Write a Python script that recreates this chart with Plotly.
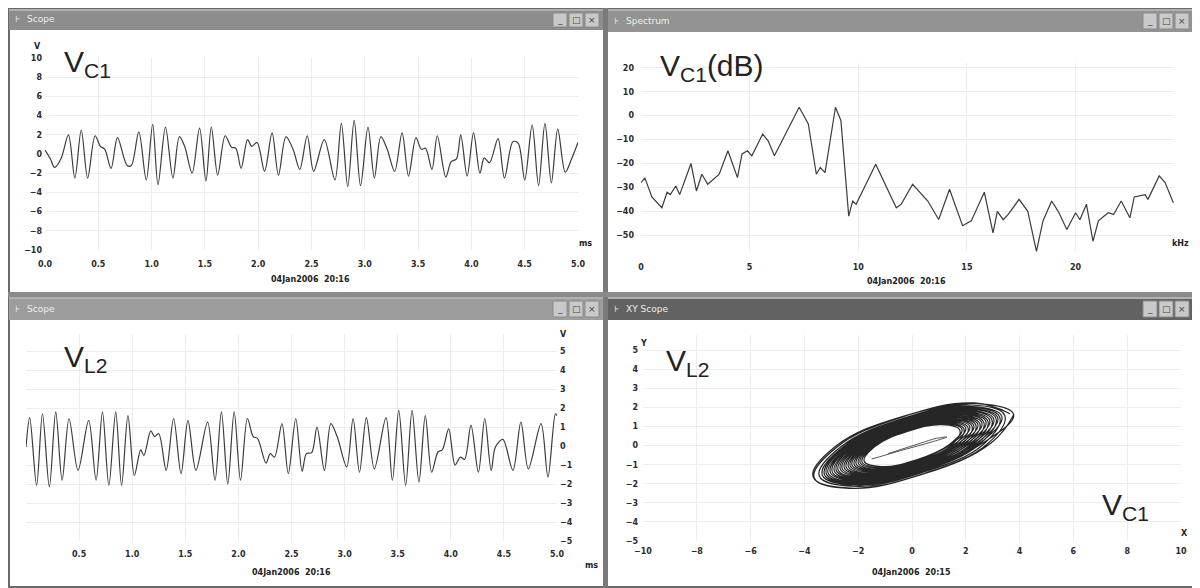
import plotly.graph_objects as go

OFF = 8  # the page body adds an 8px margin; positions below are page pixels
W, H = 1200 - OFF, 588 - OFF

# ---------------- data ----------------
# Top-left scope: V_C1 (ms, V)
vc1_t = [0.00, 0.05, 0.09, 0.15, 0.22, 0.28, 0.34, 0.40, 0.47, 0.52, 0.56, 0.62, 0.68, 0.77, 0.81,
         0.88, 0.95, 1.01, 1.06, 1.13, 1.20, 1.26, 1.31, 1.38, 1.45, 1.51, 1.56, 1.62, 1.69, 1.75,
         1.79, 1.84, 1.90, 1.94, 1.99, 2.06, 2.13, 2.19, 2.26, 2.33, 2.39, 2.46, 2.52, 2.62, 2.72,
         2.78, 2.84, 2.90, 2.96, 3.03, 3.09, 3.15, 3.21, 3.28, 3.35, 3.41, 3.48, 3.53, 3.57, 3.63,
         3.68, 3.76, 3.81, 3.86, 3.90, 3.96, 4.02, 4.08, 4.12, 4.17, 4.25, 4.31, 4.39, 4.44, 4.50,
         4.57, 4.63, 4.69, 4.75, 4.81, 4.88, 4.94, 5.00]
vc1_v = [0.4, -0.5, -1.4, -0.5, 2.0, -2.5, 2.5, -2.5, 1.9, 0.8, 0.5, -1.5, 1.7, -1.2, -1.2,
         2.3, -2.7, 3.1, -3.2, 2.8, -2.5, 1.8, 0.8, -2.0, 2.7, -2.8, 2.8, -2.2, 1.9, 0.7,
         0.6, -1.5, 1.5, 0.8, 1.2, -1.8, 2.2, -2.2, 1.8, 0.4, -1.6, 1.9, -1.8, 1.5, -2.7,
         3.2, -3.4, 3.5, -3.3, 2.8, -2.5, 1.8, 0.5, -1.8, 2.2, -2.3, 1.7, 0.5, 0.6, -1.6,
         1.9, -2.4, -0.8, -0.5, 2.0, -2.3, 2.2, -2.0, -0.4, -0.9, 1.6, -2.5, 1.3, 1.1, -2.7,
         3.0, -3.3, 3.2, -3.0, 2.6, -1.9, -0.5, 1.2]

# Top-right spectrum: V_C1 (kHz, dB)
sp_f = [0, 0.18, 0.5, 0.96, 1.2, 1.35, 1.6, 1.78, 2.1, 2.3, 2.55, 2.8, 3.07, 3.6, 4.0, 4.44,
        4.65, 4.9, 5.1, 5.6, 5.85, 6.14, 7.28, 7.7, 8.07, 8.25, 8.47, 8.95, 9.2, 9.56, 9.74,
        9.9, 10.8, 11.75, 11.98, 12.5, 13.2, 13.7, 14.2, 14.8, 15.2, 15.8, 16.2, 16.4, 16.67,
        16.9, 17.4, 17.8, 18.2, 18.5, 18.9, 19.2, 19.6, 20.0, 20.2, 20.5, 20.8, 21.05, 21.5,
        21.75, 22.1, 22.5, 22.7, 23.2, 23.33, 23.85, 24.12, 24.5]
sp_db = [-28, -26, -34, -38.5, -32, -33, -29.4, -33, -25, -20, -31.5, -24.5, -28.7, -24.5, -14.7, -25.9,
         -16, -14.7, -16.8, -7.7, -10.5, -16.8, 3.5, -3.5, -24.5, -21.7, -23.8, 3.5, -2, -42, -35.7,
         -37, -20.3, -38.5, -37, -28.7, -35.7, -43.4, -30.8, -46, -44, -32, -49, -40, -43.5,
         -41.3, -35, -40, -56.7, -44, -35.7, -40, -47.6, -40.6, -43.5, -37, -52.5, -44, -40.6,
         -41.3, -35.7, -42.7, -34, -33, -35, -25.2, -28, -36.4]

# Bottom-left scope: V_L2 (ms, V)
vl2_t = [0.00, 0.035, 0.10, 0.155, 0.22, 0.28, 0.34, 0.405, 0.49, 0.59, 0.66, 0.72, 0.78, 0.845,
         0.90, 0.96, 1.02, 1.08, 1.11, 1.175, 1.21, 1.25, 1.32, 1.39, 1.46, 1.525, 1.60, 1.71,
         1.78, 1.84, 1.90, 1.96, 2.02, 2.085, 2.14, 2.18, 2.26, 2.30, 2.34, 2.41, 2.47, 2.54,
         2.60, 2.64, 2.69, 2.74, 2.81, 2.87, 2.93, 3.02, 3.08, 3.14, 3.205, 3.28, 3.39, 3.45,
         3.51, 3.575, 3.635, 3.70, 3.76, 3.82, 3.88, 3.92, 3.98, 4.04, 4.09, 4.13, 4.19, 4.26,
         4.32, 4.38, 4.42, 4.49, 4.585, 4.66, 4.73, 4.85, 4.915, 4.985, 5.00]
vl2_v = [-0.05, 1.5, -2.07, 1.7, -2.15, 1.8, -1.8, 1.45, -1.28, 1.35, -1.8, 1.8, -2.07, 1.8,
         -2.07, 1.6, -1.55, -0.2, -0.5, 0.8, 0.5, 0.65, -1.28, 1.45, -1.45, 1.35, -1.28, 1.26,
         -1.8, 1.8, -2.0, 1.8, -1.8, 1.45, 0.5, 0.4, -0.9, -0.4, -0.58, 1.18, -1.45, 1.45,
         -1.33, -0.4, -0.35, 1.0, -1.28, 1.18, 0.5, -1.1, 1.45, -1.38, 1.5, -1.2, 1.5, -1.8,
         1.88, -2.07, 1.88, -1.9, 1.6, -1.38, -0.3, -0.2, 0.9, -1.0, -0.58, -0.7, 1.1, -1.38,
         1.45, -1.28, -0.05, 0.35, -1.28, 1.26, -1.2, 1.18, -1.63, 1.7, 1.6]

# Bottom-right XY scope: V_C1 (x) vs V_L2 (y), loops
xy_x = [3.64, 2.32, -0.35, -2.82, -3.64, -2.32, 0.35, 2.82,
        3.45, 2.20, -0.33, -2.68, -3.45, -2.20, 0.33, 2.68,
        3.26, 2.09, -0.32, -2.53, -3.26, -2.09, 0.32, 2.53,
        3.12, 1.99, -0.30, -2.42, -3.12, -1.99, 0.30, 2.42,
        2.97, 1.90, -0.29, -2.30, -2.97, -1.90, 0.29, 2.30,
        2.82, 1.80, -0.27, -2.19, -2.82, -1.80, 0.27, 2.19,
        2.67, 1.71, -0.26, -2.07, -2.67, -1.71, 0.26, 2.07,
        2.52, 1.61, -0.24, -1.96, -2.52, -1.61, 0.24, 1.96,
        2.37, 1.52, -0.23, -1.84, -2.37, -1.52, 0.23, 1.84,
        2.23, 1.42, -0.22, -1.73, -2.23, -1.42, 0.22, 1.73,
        2.08, 1.33, -0.20, -1.61, -2.08, -1.33, 0.20, 1.61,
        1.93, 1.23, -0.19, -1.50, -1.93, -1.23, 0.19, 1.50,
        1.78, 1.14, -0.17, -1.38, -1.78, -1.14, 0.17, 1.38,
        1.86, 1.19, -0.18, -1.44, -1.86, -1.19, 0.18, 1.44,
        2.00, 1.28, -0.19, -1.56, -2.00, -1.28, 0.19, 1.56,
        2.15, 1.37, -0.21, -1.67, -2.15, -1.37, 0.21, 1.67,
        2.30, 1.47, -0.22, -1.79, -2.30, -1.47, 0.22, 1.79,
        2.45, 1.56, -0.24, -1.90, -2.45, -1.56, 0.24, 1.90,
        2.60, 1.66, -0.25, -2.02, -2.60, -1.66, 0.25, 2.02,
        2.75, 1.75, -0.27, -2.13, -2.75, -1.75, 0.27, 2.13,
        2.89, 1.85, -0.28, -2.25, -2.89, -1.85, 0.28, 2.25,
        3.04, 1.94, -0.30, -2.36, -3.04, -1.94, 0.30, 2.36,
        3.19, 2.04, -0.31, -2.48, -3.19, -2.04, 0.31, 2.48,
        3.34, 2.13, -0.32, -2.59, -3.34, -2.13, 0.32, 2.59,
        3.78, 2.45, -0.30, -2.85, -3.68, -2.40, 0.40, 2.95, 3.78]
xy_y = [1.67, 2.24, 1.51, -0.11, -1.67, -2.24, -1.51, 0.11,
        1.58, 2.13, 1.43, -0.10, -1.58, -2.13, -1.43, 0.10,
        1.50, 2.02, 1.36, -0.10, -1.50, -2.02, -1.36, 0.10,
        1.43, 1.92, 1.29, -0.09, -1.43, -1.92, -1.29, 0.09,
        1.36, 1.83, 1.23, -0.09, -1.36, -1.83, -1.23, 0.09,
        1.29, 1.74, 1.17, -0.08, -1.29, -1.74, -1.17, 0.08,
        1.22, 1.65, 1.11, -0.08, -1.22, -1.65, -1.11, 0.08,
        1.16, 1.56, 1.05, -0.07, -1.16, -1.56, -1.05, 0.07,
        1.09, 1.47, 0.99, -0.07, -1.09, -1.47, -0.99, 0.07,
        1.02, 1.37, 0.92, -0.07, -1.02, -1.37, -0.92, 0.07,
        0.95, 1.28, 0.86, -0.06, -0.95, -1.28, -0.86, 0.06,
        0.88, 1.19, 0.80, -0.06, -0.88, -1.19, -0.80, 0.06,
        0.82, 1.10, 0.74, -0.05, -0.82, -1.10, -0.74, 0.05,
        0.85, 1.15, 0.77, -0.06, -0.85, -1.15, -0.77, 0.06,
        0.92, 1.24, 0.83, -0.06, -0.92, -1.24, -0.83, 0.06,
        0.99, 1.33, 0.89, -0.06, -0.99, -1.33, -0.89, 0.06,
        1.05, 1.42, 0.95, -0.07, -1.05, -1.42, -0.95, 0.07,
        1.12, 1.51, 1.02, -0.07, -1.12, -1.51, -1.02, 0.07,
        1.19, 1.60, 1.08, -0.08, -1.19, -1.60, -1.08, 0.08,
        1.26, 1.69, 1.14, -0.08, -1.26, -1.69, -1.14, 0.08,
        1.33, 1.79, 1.20, -0.09, -1.33, -1.79, -1.20, 0.09,
        1.39, 1.88, 1.26, -0.09, -1.39, -1.88, -1.26, 0.09,
        1.46, 1.97, 1.32, -0.09, -1.46, -1.97, -1.32, 0.09,
        1.53, 2.06, 1.39, -0.10, -1.53, -2.06, -1.39, 0.10,
        1.62, 2.20, 1.55, -0.05, -1.62, -2.22, -1.50, 0.15, 1.62]
# inner scribble of the XY trace
core_x = [-1.5, -1.0, -0.4, 0.2, 0.8, 1.3, 0.9, 0.3, -0.3, -0.9]
core_y = [-0.70, -0.50, -0.25, -0.02, 0.22, 0.45, 0.38, 0.12, -0.15, -0.42]

# tick values / labels
tl_xticks = [0, 0.5, 1, 1.5, 2, 2.5, 3, 3.5, 4, 4.5, 5]
tl_xlabels = ["0.0", "0.5", "1.0", "1.5", "2.0", "2.5", "3.0", "3.5", "4.0", "4.5", "5.0"]
tl_yticks = [-10, -8, -6, -4, -2, 0, 2, 4, 6, 8, 10]
sp_xticks = [0, 5, 10, 15, 20]
sp_yticks = [-50, -40, -30, -20, -10, 0, 10, 20]
bl_xticks = [0.5, 1, 1.5, 2, 2.5, 3, 3.5, 4, 4.5, 5]
bl_xlabels = ["0.5", "1.0", "1.5", "2.0", "2.5", "3.0", "3.5", "4.0", "4.5", "5.0"]
bl_yticks = [-5, -4, -3, -2, -1, 0, 1, 2, 3, 4, 5]
xy_xticks = [-10, -8, -6, -4, -2, 0, 2, 4, 6, 8, 10]
xy_yticks = [-5, -4, -3, -2, -1, 0, 1, 2, 3, 4, 5]

window_titles = ["Scope", "Spectrum", "Scope", "XY Scope"]
date_labels = ["04Jan2006  20:16", "04Jan2006  20:16", "04Jan2006  20:16", "04Jan2006  20:15"]


def X(px):
    return (px - OFF) / W


def Y(py):
    return 1 - (py - OFF) / H


TRACE = "#3c3c3c"
GRID = "#ededed"
TICKFONT = dict(family="DejaVu Sans", size=8, color="#2a2a2a", weight="bold")

fig = go.Figure()
fig.add_trace(go.Scatter(x=vc1_t, y=vc1_v, mode="lines", line=dict(color=TRACE, width=1.2, shape="spline", smoothing=0.9),
                         xaxis="x", yaxis="y", hoverinfo="skip"))
fig.add_trace(go.Scatter(x=sp_f, y=sp_db, mode="lines", line=dict(color=TRACE, width=1.2),
                         xaxis="x2", yaxis="y2", hoverinfo="skip"))
fig.add_trace(go.Scatter(x=vl2_t, y=vl2_v, mode="lines", line=dict(color=TRACE, width=1.2, shape="spline", smoothing=0.9),
                         xaxis="x3", yaxis="y3", hoverinfo="skip"))
fig.add_trace(go.Scatter(x=xy_x, y=xy_y, mode="lines", line=dict(color="#262626", width=1.2, shape="spline", smoothing=1.2),
                         xaxis="x4", yaxis="y4", hoverinfo="skip"))
fig.add_trace(go.Scatter(x=core_x, y=core_y, mode="lines", line=dict(color="#555", width=1, shape="spline"),
                         xaxis="x4", yaxis="y4", hoverinfo="skip"))


def ax(domain, rng, tickvals, ticktext=None, side=None, anchor=None, standoff=2):
    d = dict(domain=domain, range=rng, autorange=False, tickvals=tickvals, showgrid=True, gridcolor=GRID,
             gridwidth=1, zeroline=False, showline=False, ticks="", tickfont=TICKFONT, fixedrange=True,
             anchor=anchor, ticklabelstandoff=standoff, automargin=False)
    if ticktext is not None:
        d["ticktext"] = ticktext
    if side:
        d["side"] = side
    return d


shapes = []


def rect(x0, y0, x1, y1, fill, line=None, lw=0):
    shapes.append(dict(type="rect", xref="paper", yref="paper", x0=X(x0), x1=X(x1), y0=Y(y1), y1=Y(y0),
                       fillcolor=fill, line=dict(color=line or fill, width=lw), layer="below"))


# window frames
rect(9, 9, 1199, 587, "#ffffff", "#6a6a6a", 2)
rect(603, 8, 608, 588, "#7a7a7a")
rect(8, 292, 1200, 297, "#8a8a8a")
# title bars
bars = [(9, 9, 603, 30, "#8d8d8d", 603), (608, 9, 1198, 32, "#939393", 1193),
        (9, 297, 603, 320, "#9d9d9d", 603), (608, 297, 1198, 320, "#626262", 1193)]
annotations = []
for (x0, y0, x1, y1, c, bend), title in zip(bars, window_titles):
    rect(x0, y0, x1, y1, c)
    rect(x0, y0, x1, y0 + 2, "#b0b0b0")
    annotations.append(dict(x=X(x0 + 16), y=Y((y0 + y1) / 2), xref="paper", yref="paper", text=title,
                            showarrow=False, xanchor="left", yanchor="middle",
                            font=dict(family="DejaVu Sans", size=9, color="#eeeeee")))
    annotations.append(dict(x=X(x0 + 8), y=Y((y0 + y1) / 2), xref="paper", yref="paper", text="⊦",
                            showarrow=False, xanchor="center", yanchor="middle",
                            font=dict(family="DejaVu Sans", size=9, color="#eeeeee")))
    for k, sym in enumerate(["_", "□", "×"]):
        bx = bend - 50 + k * 16
        rect(bx, y0 + 4, bx + 14, y1 - 3, "#c9c9c9", "#8a8a8a", 1)
        annotations.append(dict(x=X(bx + 7), y=Y((y0 + y1) / 2 + 0.5), xref="paper", yref="paper", text=sym,
                                showarrow=False, xanchor="center", yanchor="middle",
                                font=dict(family="DejaVu Sans", size=9, color="#444")))


def txt(px, py, s, size=8, anchor="center", bold=True, family="DejaVu Sans", color="#222"):
    f = dict(family=family, size=size, color=color)
    if bold:
        f["weight"] = "bold"
    annotations.append(dict(x=X(px), y=Y(py), xref="paper", yref="paper", text=s, showarrow=False,
                            xanchor=anchor, yanchor="middle", font=f))


txt(62, 64, "V<sub>C1</sub>", size=30, anchor="left", bold=False, family="Liberation Sans")
txt(658, 68, "V<sub>C1</sub>(dB)", size=30, anchor="left", bold=False, family="Liberation Sans")
txt(62, 358, "V<sub>L2</sub>", size=30, anchor="left", bold=False, family="Liberation Sans")
txt(664, 363, "V<sub>L2</sub>", size=30, anchor="left", bold=False, family="Liberation Sans")
txt(1100, 506, "V<sub>C1</sub>", size=30, anchor="left", bold=False, family="Liberation Sans")

# unit labels
txt(38, 46, "V")
txt(585, 244, "ms")
txt(1180, 243, "kHz")
txt(563, 334, "V")
txt(591, 565, "ms")
txt(643, 343, "Y")
txt(1184, 533, "X")

# date stamps
txt(310, 279, date_labels[0])
txt(906, 282, date_labels[1])
txt(291, 572, date_labels[2])
txt(911, 572, date_labels[3])

fig.update_layout(
    width=W, height=H, autosize=False,
    margin=dict(l=0, r=0, t=0, b=0, pad=0, autoexpand=False),
    paper_bgcolor="#ffffff", plot_bgcolor="rgba(0,0,0,0)", showlegend=False,
    xaxis=ax([X(45), X(578)], [0, 5], tl_xticks, tl_xlabels, anchor="y", standoff=8),
    yaxis=ax([Y(250), Y(58)], [-10, 10], tl_yticks, anchor="x", standoff=2),
    xaxis2=ax([X(641), X(1174)], [0, 24.53], sp_xticks, anchor="y2", standoff=9),
    yaxis2=ax([Y(252), Y(63)], [-57, 22], sp_yticks, anchor="x2", standoff=6),
    xaxis3=ax([X(26), X(557)], [0, 5], bl_xticks, bl_xlabels, anchor="y3", standoff=7),
    yaxis3=ax([Y(541), Y(334)], [-5, 5.9], bl_yticks, side="right", anchor="x3", standoff=2),
    xaxis4=ax([X(643), X(1181)], [-10, 10], xy_xticks, anchor="y4", standoff=4),
    yaxis4=ax([Y(541), Y(335)], [-5, 5.8], xy_yticks, anchor="x4", standoff=4),
    shapes=shapes, annotations=annotations,
)

fig.write_html("out.html", config={"responsive": False, "displayModeBar": False})
